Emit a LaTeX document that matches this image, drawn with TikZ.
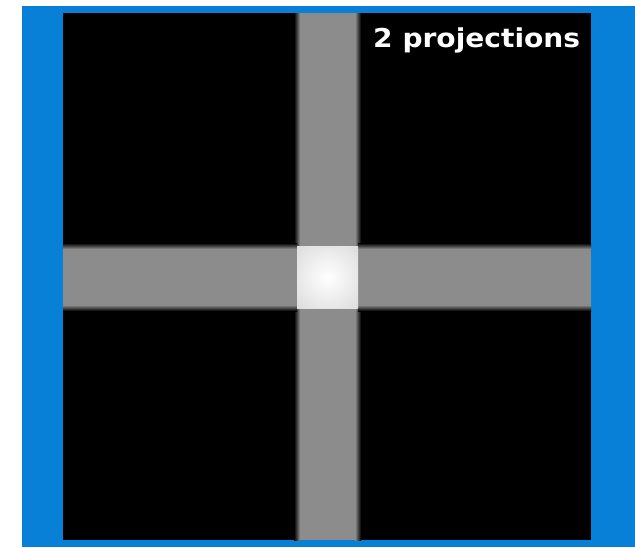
\documentclass[tikz,border=0pt]{standalone}
\usepackage{fontspec}
\setmainfont{DejaVu Sans}
\definecolor{bgblue}{RGB}{8,128,215}
\definecolor{bargray}{RGB}{140,140,140}
\definecolor{lightgray2}{RGB}{220,220,220}
\tikzset{
  lbl/.style={text=white, inner sep=0pt, font=\bfseries\fontsize{26}{26}\selectfont, anchor=base west, xscale=1.08}
}
\begin{document}
\begin{tikzpicture}[x=1pt,y=-1pt]
\useasboundingbox (0,0) rectangle (635,547);
\fill[white] (0,0) rectangle (635,547);
\fill[bgblue] (22,6) rectangle (635,547);
\fill[black] (63,13) rectangle (591,540);
% bar cores
\fill[bargray] (300,13) rectangle (355,540);
\fill[bargray] (63,249) rectangle (591,305);
% vertical bar soft edges (outside the crossing)
\foreach \ya/\yb in {13/246, 308/540}{
  \shade[left color=black, right color=bargray] (294,\ya) rectangle (300,\yb);
  \shade[left color=bargray, right color=black] (355,\ya) rectangle (361,\yb);
}
% horizontal bar soft edges (outside the crossing)
\foreach \xa/\xb in {63/297, 358/591}{
  \shade[top color=black, bottom color=bargray] (\xa,243) rectangle (\xb,249);
  \shade[top color=bargray, bottom color=black] (\xa,305) rectangle (\xb,311);
}
% center bright square
\begin{scope}
\clip (297,246) rectangle (358,308);
\fill[lightgray2] (297,246) rectangle (358,308);
\shade[inner color=white, outer color=lightgray2] (327.5,277) circle (44);
\end{scope}
\node[lbl] (label) at (373,47.5) {2 projections};
\end{tikzpicture}
\end{document}
